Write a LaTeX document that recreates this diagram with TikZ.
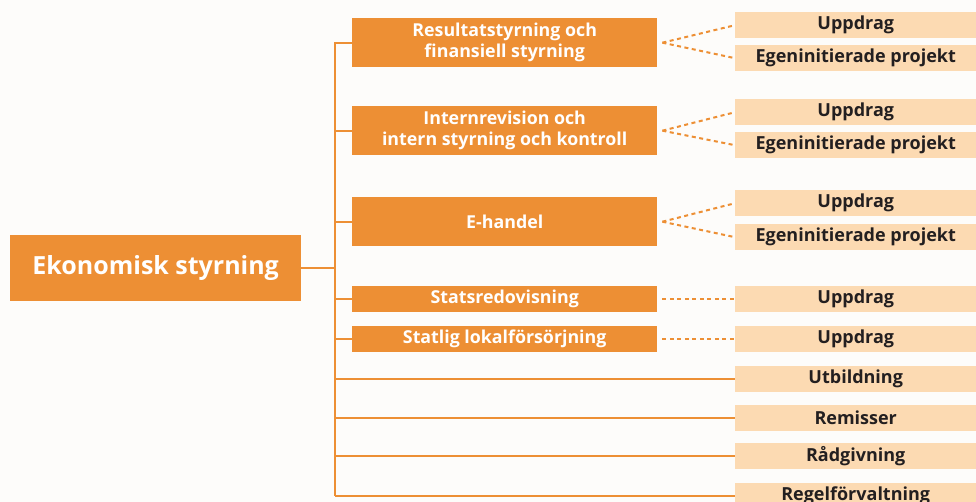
\documentclass[tikz,border=0pt]{standalone}
\usepackage{fontspec}
\setmainfont{Open Sans}
\definecolor{org}{RGB}{237,143,52}
\definecolor{peach}{RGB}{252,218,178}
\definecolor{txt}{RGB}{35,31,32}
\definecolor{bg}{RGB}{253,252,250}
\tikzset{
  mainbox/.style={fill=org, text=white, font=\bfseries\fontsize{25}{28}\selectfont, minimum width=291pt, minimum height=66pt, inner sep=0pt, anchor=north west},
  lbox/.style={fill=org, text=white, font=\bfseries\fontsize{17.8}{21}\selectfont, minimum width=305pt, inner sep=0pt, align=center, anchor=north west},
  rbox/.style={fill=peach, text=txt, font=\bfseries\fontsize{18}{20}\selectfont, minimum width=241pt, minimum height=26pt, inner sep=0pt, anchor=north west},
  conn/.style={draw=org, line width=2pt},
  dconn/.style={draw=org, line width=2pt, dash pattern=on 4pt off 3.5pt}
}
\begin{document}
\begin{tikzpicture}[x=1pt,y=-1pt]
\useasboundingbox (0,0) rectangle (976,502);
\clip (0,0) rectangle (976,502);
\fill[bg] (0,0) rectangle (976,502);
% main
\node[mainbox] (main) at (10,235) {Ekonomisk styrning};
% level 1
\node[lbox, minimum height=49pt] (b1) at (352,18) {Resultatstyrning och\\finansiell styrning};
\node[lbox, minimum height=49pt] (b2) at (352,106) {Internrevision och\\intern styrning och kontroll};
\node[lbox, minimum height=49pt] (b3) at (352,197) {E-handel};
\node[lbox, minimum height=26pt] (b4) at (352,286) {Statsredovisning};
\node[lbox, minimum height=26pt] (b5) at (352,326) {Statlig lokalförsörjning};
% right boxes
\node[rbox] (u1) at (735,12) {Uppdrag};
\node[rbox] (e1) at (735,45) {Egeninitierade projekt};
\node[rbox] (u2) at (735,99) {Uppdrag};
\node[rbox] (e2) at (735,132) {Egeninitierade projekt};
\node[rbox] (u3) at (735,190) {Uppdrag};
\node[rbox] (e3) at (735,224) {Egeninitierade projekt};
\node[rbox] (u4) at (735,286) {Uppdrag};
\node[rbox] (u5) at (735,326) {Uppdrag};
\node[rbox] (r1) at (735,366) {Utbildning};
\node[rbox] (r2) at (735,405) {Remisser};
\node[rbox] (r3) at (735,443) {Rådgivning};
\node[rbox] (r4) at (735,483) {Regelförvaltning};
% trunk
\coordinate (ttop) at (335,42.5);
\coordinate (tbot) at (335,496);
\draw[conn] (ttop) -- (tbot);
\draw[conn] (main.east) -- (main.east -| ttop);
\foreach \b in {b1,b2,b3,b4,b5}{\draw[conn] (\b.west -| ttop) -- (\b.west);}
\foreach \r in {r1,r2,r3}{\draw[conn] (\r.west -| ttop) -- (\r.west);}
\draw[conn] (tbot) -- (tbot -| r4.west);
% dashed
\foreach \b/\u/\e in {b1/u1/e1,b2/u2/e2,b3/u3/e3}{
  \draw[dconn] ([xshift=5pt]\b.east) -- (\u.west);
  \draw[dconn] ([xshift=5pt]\b.east) -- (\e.west);
}
\draw[dconn] ([xshift=5pt]b4.east) -- (u4.west);
\draw[dconn] ([xshift=5pt]b5.east) -- (u5.west);
\end{tikzpicture}
\end{document}
